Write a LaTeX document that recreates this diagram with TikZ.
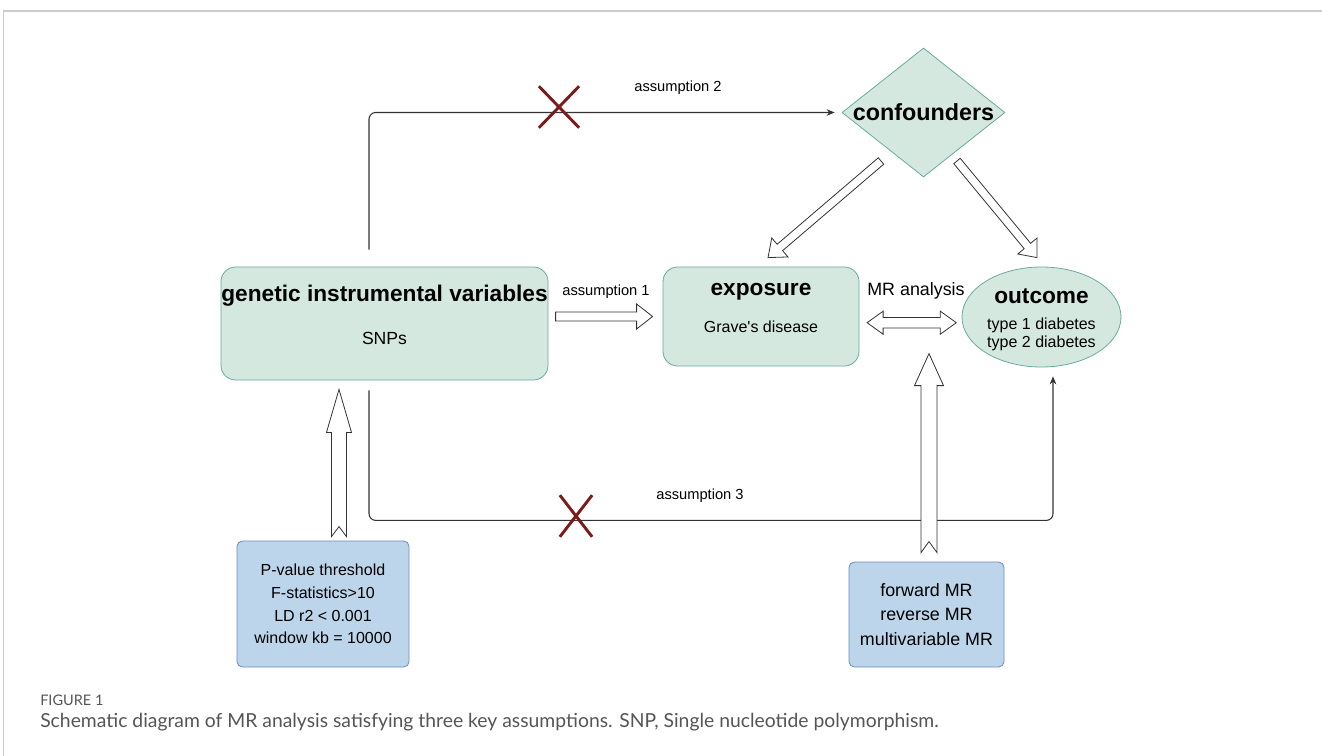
\documentclass[tikz,border=0pt]{standalone}
\usepackage{fontspec}
\setmainfont{Liberation Sans}
\newfontfamily\capfont{Lato}
\usetikzlibrary{arrows.meta,positioning,shapes.geometric,shapes.misc,calc}
\definecolor{mint}{HTML}{D5E8E0}
\definecolor{mintline}{HTML}{67AB9F}
\definecolor{skyfill}{HTML}{BCD5EB}
\definecolor{skyline}{HTML}{6C8EBF}
\definecolor{crossred}{HTML}{7A1C1C}
\definecolor{framegray}{HTML}{CCCCCC}
\definecolor{capgray}{HTML}{555555}
\definecolor{linegray}{HTML}{333333}
\tikzset{
  varbox/.style={
    rectangle, rounded corners=11pt, draw=mintline, fill=mint,
    line width=0.6pt, inner sep=0pt
  },
  critbox/.style={
    rectangle, rounded corners=4pt, draw=skyline, fill=skyfill,
    line width=0.6pt, align=center, font=\fontsize{12}{17}\selectfont
  },
  titletext/.style={font=\fontsize{17}{20}\selectfont\bfseries, inner sep=0pt},
  subtext/.style={font=\fontsize{12}{13.5}\selectfont, align=center, inner sep=0pt},
  labeltext/.style={font=\fontsize{11}{13}\selectfont, inner sep=0pt},
  thinarrow/.style={
    -{Stealth[length=6pt,width=5pt]}, draw=linegray, line width=0.8pt,
    rounded corners=5pt
  },
  blockarrow/.style={draw=linegray, fill=white, line width=0.6pt, line join=miter},
  nomark/.style={cross out, draw=crossred, line width=2.2pt, inner sep=0pt},
}
% hollow block arrow: [notch]{tail}{tip}{shaft half}{head half}{head length}
\newcommand{\fatarrow}[6][0]{%
  \draw[blockarrow] let \p1=($(#3)-(#2)$), \n1={atan2(\y1,\x1)}, \n2={veclen(\x1,\y1)} in
    ($(#2)+(\n1:{#1*0.75pt})$)
    -- ($(#2)+({\n1+90}:{#4*0.75pt})$)
    -- ($(#2)+(\n1:{\n2-#6*0.75pt})+({\n1+90}:{#4*0.75pt})$)
    -- ($(#2)+(\n1:{\n2-#6*0.75pt})+({\n1+90}:{#5*0.75pt})$)
    -- (#3)
    -- ($(#2)+(\n1:{\n2-#6*0.75pt})+({\n1-90}:{#5*0.75pt})$)
    -- ($(#2)+(\n1:{\n2-#6*0.75pt})+({\n1-90}:{#4*0.75pt})$)
    -- ($(#2)+({\n1-90}:{#4*0.75pt})$)
    -- cycle;}
% hollow double block arrow: {end}{end}{shaft half}{head half}{head length}
\newcommand{\fatdarrow}[5]{%
  \draw[blockarrow] let \p1=($(#2)-(#1)$), \n1={atan2(\y1,\x1)}, \n2={veclen(\x1,\y1)} in
    (#1)
    -- ($(#1)+(\n1:{#5*0.75pt})+({\n1+90}:{#4*0.75pt})$)
    -- ($(#1)+(\n1:{#5*0.75pt})+({\n1+90}:{#3*0.75pt})$)
    -- ($(#1)+(\n1:{\n2-#5*0.75pt})+({\n1+90}:{#3*0.75pt})$)
    -- ($(#1)+(\n1:{\n2-#5*0.75pt})+({\n1+90}:{#4*0.75pt})$)
    -- (#2)
    -- ($(#1)+(\n1:{\n2-#5*0.75pt})+({\n1-90}:{#4*0.75pt})$)
    -- ($(#1)+(\n1:{\n2-#5*0.75pt})+({\n1-90}:{#3*0.75pt})$)
    -- ($(#1)+(\n1:{#5*0.75pt})+({\n1-90}:{#3*0.75pt})$)
    -- ($(#1)+(\n1:{#5*0.75pt})+({\n1-90}:{#4*0.75pt})$)
    -- cycle;}

\begin{document}
\begin{tikzpicture}[x=0.75pt, y=-0.75pt]
  \useasboundingbox (0,0) rectangle (1322,756);
  \draw[framegray, line width=0.8pt] (3.5,756) -- (3.5,11) -- (1322,11);

  % Boxes
  \node[varbox, minimum width=245.25pt, minimum height=84.75pt] (giv) at (384.5,323.5) {};
  \node[varbox, minimum width=147pt, minimum height=74.25pt] (expo) at (761,316.5) {};
  \node[ellipse, draw=mintline, fill=mint, line width=0.6pt, inner sep=0pt,
        minimum width=119.25pt, minimum height=75pt] (outc) at (1041.5,317) {};
  \node[diamond, aspect=1, draw=mintline, fill=mint, line width=0.6pt, inner sep=0pt,
        minimum width=122.25pt, minimum height=96.75pt] (conf) at (923.5,112.5) {};
  \node[critbox, minimum width=129pt, minimum height=94.5pt] (pval) at (323,604)
    {P-value threshold\\F-statistics>10\\LD r2 < 0.001\\window kb = 10000};
  \node[critbox, font=\fontsize{13.4}{18.4}\selectfont, minimum width=116.25pt,
        minimum height=78.75pt] (mrbox) at (926.5,614.5)
    {forward MR\\reverse MR\\multivariable MR};

  % Box texts
  \node[titletext] (givtitle) at ($(giv.center)+(0,-27.5)$) {genetic instrumental variables};
  \node[subtext, font=\fontsize{13.2}{15}\selectfont] (givsub) at ($(giv.center)+(0,14.5)$) {SNPs};
  \node[titletext] (expotitle) at ($(expo.center)+(0,-24.5)$) {exposure};
  \node[subtext] (exposub) at ($(expo.center)+(0,10.5)$) {Grave\textquotesingle s disease};
  \node[titletext] (outctitle) at ($(outc.center)+(0,-21)$) {outcome};
  \node[subtext] (outcsub) at ($(outc.center)+(0,17)$) {type 1 diabetes\\type 2 diabetes};
  \node[titletext, font=\fontsize{17.5}{20}\selectfont\bfseries] (conftitle) at (conf.center) {confounders};

  % Assumption 2 and 3
  \coordinate (a2s) at ($(giv.north)+(-15.5,-17)$);
  \coordinate (a2e) at ($(conf.west)+(-7,0)$);
  \coordinate (a3s) at ($(giv.south)+(-15.5,10)$);
  \coordinate (a3e) at ($(outc.south)+(11.5,9)$);
  \draw[thinarrow] (a2s) |- (a2e);
  \draw[thinarrow] (a3s) -- ++(0,130) -| (a3e);
  \node[labeltext] (lab2) at (678,88) {assumption 2};
  \node[labeltext] (lab3) at (700,496) {assumption 3};
  \node[nomark, minimum width=28pt, minimum height=29pt] (x2) at (559,107) {};
  \node[nomark, minimum width=22pt, minimum height=29pt] (x3) at (576,516) {};

  % Block arrows
  \coordinate (a1s) at ($(expo.west)+(-107,0)$);
  \coordinate (a1e) at ($(expo.west)+(-10,0)$);
  \coordinate (c1s) at ($(conf.center)+(-42.5,48.5)$);
  \coordinate (c1e) at ($(expo.north)+(7,-9)$);
  \coordinate (c2s) at ($(conf.center)+(33.5,48.5)$);
  \coordinate (c2e) at ($(outc.north)+(-4.5,-9)$);
  \coordinate (m1) at ($(expo.east)+(7.7,6.2)$);
  \coordinate (m2) at ($(outc.west)+(-5.3,5.7)$);
  \coordinate (p1s) at ($(pval.north)+(16,-4)$);
  \coordinate (p1e) at ($(giv.south)+(-45.5,9)$);
  \coordinate (r1s) at ($(mrbox.north)+(2.5,-9)$);
  \coordinate (r1e) at ($(mrbox.north)+(2.5,-208)$);
  \fatarrow{a1s}{a1e}{4.5}{12.5}{16}
  \fatarrow{c1s}{c1e}{4.2}{12.5}{15}
  \fatarrow{c2s}{c2e}{4.2}{12.5}{15}
  \fatdarrow{m1}{m2}{5.2}{11.5}{16}
  \fatarrow[10]{p1s}{p1e}{7.5}{12.5}{43}
  \fatarrow[11]{r1s}{r1e}{8}{14.5}{32}
  \node[labeltext] (lab1) at (606,292) {assumption 1};
  \node[labeltext, font=\fontsize{13.4}{15}\selectfont] (labmr) at (916,291) {MR analysis};

  % Caption
  \node[anchor=west, inner sep=0pt, text=capgray, font=\capfont\fontsize{10.9}{12}\selectfont]
    (figlabel) at (40,700) {FIGURE 1};
  \node[anchor=west, inner sep=0pt, text=capgray, font=\capfont\fontsize{14.5}{17}\selectfont]
    (figcaption) at (40,722)
    {Schematic diagram of MR analysis satisfying three key assumptions. SNP, Single nucleotide polymorphism.};
\end{tikzpicture}
\end{document}
